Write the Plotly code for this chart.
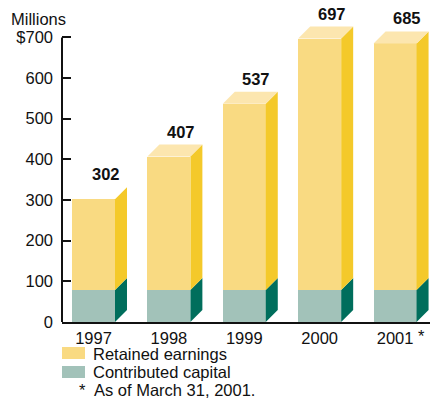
import plotly.graph_objects as go

# Capital components, millions of dollars
years = ["1997", "1998", "1999", "2000", "2001"]
totals = [302, 407, 537, 697, 685]
contributed = [79, 79, 79, 79, 79]
retained = [t - c for t, c in zip(totals, contributed)]
y_ticks = [0, 100, 200, 300, 400, 500, 600, 700]
y_tick_text = ["0", "100", "200", "300", "400", "500", "600", "$700"]

# pseudo-3D box geometry (in axis units)
BAR_W = 0.57
DX = 0.159
DY = 29.5

FONT = "Liberation Sans, Arial, Helvetica, sans-serif"
FS = 16.5
INK = "#111"
RET_FRONT, RET_TOP, RET_SIDE = "#F9DA82", "#FCE6AF", "#F4C92A"
CON_FRONT, CON_SIDE = "#A2C2B9", "#006E5C"

xs = list(range(len(years)))
fig = go.Figure()

# front faces
fig.add_trace(go.Bar(x=xs, y=contributed, width=BAR_W, marker=dict(color=CON_FRONT, line=dict(width=0)),
                     hoverinfo="skip", showlegend=False))
fig.add_trace(go.Bar(x=xs, y=retained, base=contributed, width=BAR_W,
                     marker=dict(color=RET_FRONT, line=dict(width=0)),
                     hoverinfo="skip", showlegend=False))


def poly(px, py, color):
    fig.add_trace(go.Scatter(x=px + [px[0]], y=py + [py[0]], mode="lines", fill="toself",
                             fillcolor=color, line=dict(width=0, color=color),
                             hoverinfo="skip", showlegend=False))


for i, (c, t) in enumerate(zip(contributed, totals)):
    xl, xr = i - BAR_W / 2, i + BAR_W / 2
    # right-hand sides
    poly([xr, xr + DX, xr + DX, xr], [0, DY, c + DY, c], CON_SIDE)
    poly([xr, xr + DX, xr + DX, xr], [c, c + DY, t + DY, t], RET_SIDE)
    # lids (the first column is left open)
    if i > 0:
        poly([xl, xl + DX, xr + DX, xr], [t, t + DY, t + DY, t], RET_TOP)

L, R, T, B = 62, 430, 14, 322
W, H = R - L, B - T


def pxx(p):
    return (p - L) / W


def pxy(p):
    return (B - p) / H


def note(x, y, text):
    return dict(x=pxx(x), y=pxy(y), xref="paper", yref="paper", text=text, showarrow=False,
                xanchor="left", yanchor="middle", font=dict(family=FONT, size=FS, color=INK))


annotations = []
for i, t in enumerate(totals):
    annotations.append(dict(x=i + DX, y=t + DY, xref="x", yref="y", text=f"<b>{t}</b>",
                            showarrow=False, xanchor="center", yanchor="middle", yshift=13,
                            font=dict(family=FONT, size=FS, color=INK)))

annotations += [
    note(9, 18.5, "Millions"),
    note(416, 336, "*"),
    note(91, 354, "Retained earnings"),
    note(91, 372, "Contributed capital"),
    note(77, 390, "*"),
    note(92, 390, "As of March 31, 2001."),
]

shapes = [
    # vertical value axis, stopping at the top tick
    dict(type="line", xref="paper", yref="y", x0=0, x1=0, y0=0, y1=max(y_ticks),
         line=dict(color=INK, width=2), layer="above"),
    # legend swatches
    dict(type="rect", xref="paper", yref="paper", x0=pxx(62), x1=pxx(85), y0=pxy(359), y1=pxy(347),
         fillcolor=RET_FRONT, line=dict(width=0)),
    dict(type="rect", xref="paper", yref="paper", x0=pxx(62), x1=pxx(85), y0=pxy(378), y1=pxy(366),
         fillcolor=CON_FRONT, line=dict(width=0)),
]

fig.update_layout(
    width=433, height=398,
    margin=dict(l=L, r=433 - R, t=T, b=398 - B),
    paper_bgcolor="white", plot_bgcolor="white",
    barmode="stack",
    showlegend=False,
    font=dict(family=FONT, size=FS, color=INK),
    xaxis=dict(range=[-0.418, 4.463], tickmode="array", tickvals=xs, ticktext=years,
               showline=True, linecolor=INK, linewidth=2, ticks="", showgrid=False,
               zeroline=False, tickfont=dict(family=FONT, size=FS, color=INK)),
    yaxis=dict(range=[0, 757.5], tickmode="array", tickvals=y_ticks, ticktext=y_tick_text,
               showline=False, ticks="inside", ticklen=9, tickwidth=1.5, tickcolor=INK,
               showgrid=False, zeroline=False, ticklabelstandoff=8,
               tickfont=dict(family=FONT, size=FS, color=INK)),
    annotations=annotations,
    shapes=shapes,
)

fig.write_html("out.html")
